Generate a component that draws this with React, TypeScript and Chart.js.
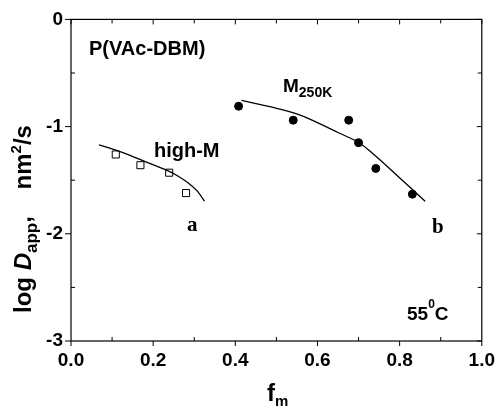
import { useEffect, useRef } from "react";
import { Chart, registerables } from "chart.js";

Chart.register(...registerables);

// ---- data ----
const highMFm = [0.109, 0.169, 0.239, 0.28];
const highMLogD = [-1.26, -1.36, -1.43, -1.62];
const m250Fm = [0.408, 0.541, 0.676, 0.7, 0.742, 0.831];
const m250LogD = [-0.81, -0.94, -0.94, -1.15, -1.39, -1.63];
const fitAFm = [0.068, 0.118, 0.175, 0.239, 0.262, 0.287, 0.307, 0.325];
const fitALogD = [-1.17, -1.232, -1.318, -1.418, -1.465, -1.53, -1.6, -1.696];
const fitBFm = [0.415, 0.481, 0.553, 0.601, 0.65, 0.701, 0.738, 0.795, 0.862];
const fitBLogD = [-0.755, -0.812, -0.885, -0.965, -1.055, -1.15, -1.262, -1.46, -1.696];
const xMajorTicks = [0, 0.2, 0.4, 0.6, 0.8, 1.0];
const xMinorTicks = [0.1, 0.3, 0.5, 0.7, 0.9];
const yMajorTicks = [0, -1, -2, -3];
const yMinorTicks = [-0.5, -1.5, -2.5];

const SANS = '"Liberation Sans", Arial, sans-serif';
const SERIF = '"Liberation Serif", "Times New Roman", serif';

type Run = { t: string; size: number; dy?: number; italic?: boolean; family?: string };

function fontOf(r: Run) {
  return `${r.italic ? "italic " : ""}bold ${r.size}px ${r.family || SANS}`;
}
function runsWidth(ctx: CanvasRenderingContext2D, runs: Run[]) {
  let w = 0;
  for (const r of runs) {
    ctx.font = fontOf(r);
    w += ctx.measureText(r.t).width;
  }
  return w;
}
function drawRuns(ctx: CanvasRenderingContext2D, runs: Run[], x: number, y: number) {
  let cx = x;
  for (const r of runs) {
    ctx.font = fontOf(r);
    ctx.fillText(r.t, cx, y + (r.dy || 0));
    cx += ctx.measureText(r.t).width;
  }
}

const framePlugin = {
  id: "frameAndText",
  afterDraw(chart: any) {
    const { ctx, chartArea } = chart;
    const xs = chart.scales.x;
    const ys = chart.scales.y;
    const { left, right, top, bottom } = chartArea;
    ctx.save();
    ctx.strokeStyle = "#000";
    ctx.fillStyle = "#000";
    ctx.lineWidth = 1.2;
    ctx.strokeRect(left, top, right - left, bottom - top);
    ctx.lineWidth = 1;
    ctx.beginPath();
    for (const v of xMajorTicks) {
      const px = xs.getPixelForValue(v);
      ctx.moveTo(px, bottom);
      ctx.lineTo(px, bottom + 5);
      ctx.moveTo(px, top);
      ctx.lineTo(px, top + 5);
    }
    for (const v of xMinorTicks) {
      const px = xs.getPixelForValue(v);
      ctx.moveTo(px, bottom);
      ctx.lineTo(px, bottom - 4);
      ctx.moveTo(px, top);
      ctx.lineTo(px, top + 4);
    }
    for (const v of yMajorTicks) {
      const py = ys.getPixelForValue(v);
      ctx.moveTo(left - 6, py);
      ctx.lineTo(left, py);
      ctx.moveTo(right, py);
      ctx.lineTo(right - 5, py);
    }
    for (const v of yMinorTicks) {
      const py = ys.getPixelForValue(v);
      ctx.moveTo(left, py);
      ctx.lineTo(left + 4, py);
      ctx.moveTo(right, py);
      ctx.lineTo(right - 4, py);
    }
    ctx.stroke();

    ctx.textBaseline = "alphabetic";
    ctx.textAlign = "left";
    drawRuns(ctx, [{ t: "P(VAc-DBM)", size: 20 }], 89, 55);
    drawRuns(ctx, [{ t: "high-M", size: 20 }], 154, 157);
    drawRuns(ctx, [{ t: "M", size: 19 }, { t: "250K", size: 14, dy: 5 }], 283, 92);
    drawRuns(ctx, [{ t: "a", size: 21, family: SERIF }], 187, 231);
    drawRuns(ctx, [{ t: "b", size: 21, family: SERIF }], 432, 233);
    drawRuns(
      ctx,
      [
        { t: "55", size: 19 },
        { t: "0", size: 12, dy: -12 },
        { t: "C", size: 19 },
      ],
      407,
      320
    );

    drawRuns(ctx, [{ t: "f", size: 24 }, { t: "m", size: 15, dy: 5 }], 267, 401);

    const yRuns: Run[] = [
      { t: "log ", size: 24 },
      { t: "D", size: 24, italic: true },
      { t: "app", size: 17, dy: 6 },
      { t: ",    nm", size: 24 },
      { t: "2", size: 15, dy: -10 },
      { t: "/s", size: 24 },
    ];
    const w = runsWidth(ctx, yRuns);
    ctx.translate(31, 219);
    ctx.rotate(-Math.PI / 2);
    drawRuns(ctx, yRuns, -w / 2, 0);
    ctx.restore();
  },
};

export default function App() {
  const ref = useRef<HTMLCanvasElement | null>(null);
  useEffect(() => {
    if (!ref.current) return;
    const tickFont = { family: SANS, size: 19, weight: "bold" as const };
    const chart = new Chart(ref.current, {
      type: "scatter",
      data: {
        datasets: [
          {
            type: "line",
            label: "fit a",
            data: fitAFm.map((x, i) => ({ x, y: fitALogD[i] })),
            borderColor: "#000",
            borderWidth: 1.3,
            pointRadius: 0,
            tension: 0.4,
            fill: false,
          },
          {
            type: "line",
            label: "fit b",
            data: fitBFm.map((x, i) => ({ x, y: fitBLogD[i] })),
            borderColor: "#000",
            borderWidth: 1.3,
            pointRadius: 0,
            tension: 0.4,
            fill: false,
          },
          {
            label: "high-M",
            data: highMFm.map((x, i) => ({ x, y: highMLogD[i] })),
            pointStyle: "rect",
            pointRadius: 5,
            backgroundColor: "#fff",
            borderColor: "#000",
            borderWidth: 1,
          },
          {
            label: "M250K",
            data: m250Fm.map((x, i) => ({ x, y: m250LogD[i] })),
            pointStyle: "circle",
            pointRadius: 4,
            backgroundColor: "#000",
            borderColor: "#000",
            borderWidth: 1,
          },
        ],
      },
      options: {
        responsive: false,
        animation: false,
        layout: { padding: { top: 18, right: 18, left: 0, bottom: 0 } },
        plugins: { legend: { display: false }, tooltip: { enabled: false } },
        scales: {
          x: {
            type: "linear",
            min: 0,
            max: 1,
            afterFit: (s: any) => {
              s.height = 68;
            },
            afterBuildTicks: (s: any) => {
              s.ticks = xMajorTicks.map((v) => ({ value: v }));
            },
            ticks: {
              font: tickFont,
              color: "#000",
              padding: 8,
              maxRotation: 0,
              autoSkip: false,
              callback: (v: any) => Number(v).toFixed(1),
            },
            grid: { display: false, drawTicks: false },
            border: { display: false },
          },
          y: {
            type: "linear",
            min: -3,
            max: 0,
            afterFit: (s: any) => {
              s.width = 71;
            },
            afterBuildTicks: (s: any) => {
              s.ticks = yMajorTicks.map((v) => ({ value: v }));
            },
            ticks: {
              font: tickFont,
              color: "#000",
              padding: 8,
              autoSkip: false,
              callback: (v: any) => String(v),
            },
            grid: { display: false, drawTicks: false },
            border: { display: false },
          },
        },
      },
      plugins: [framePlugin],
    });
    return () => chart.destroy();
  }, []);
  return (
    <div style={{ position: "absolute", left: 0, top: 0, width: 503, height: 409, background: "#fff" }}>
      <canvas ref={ref} width={503} height={409} style={{ width: 503, height: 409 }} />
    </div>
  );
}
